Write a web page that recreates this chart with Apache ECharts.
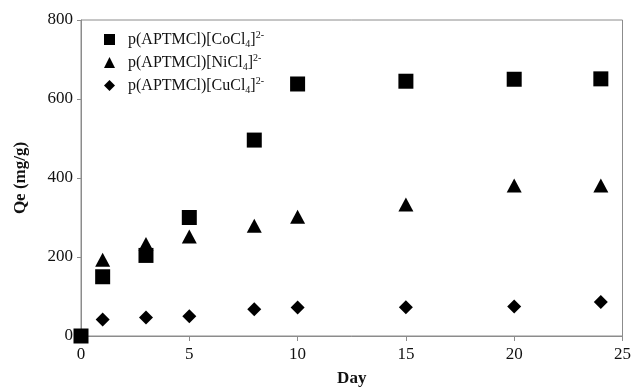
<!DOCTYPE html>
<html>
<head>
<meta charset="utf-8">
<script src="https://cdn.jsdelivr.net/npm/echarts@6/dist/echarts.min.js"></script>
<style>
  html, body { margin: 0; padding: 0; background: #fff; }
  #chart { width: 634px; height: 392px; }
</style>
</head>
<body>
<div id="chart"></div>
<script>
// Adsorption capacity Qe (mg/g) versus contact time (days)
const days = [0, 1, 3, 5, 8, 10, 15, 20, 24];
const cobalt = [0, 150, 204, 300, 496, 638, 645, 650, 651];
const nickel = [null, 193, 233, 252, 279, 302, 333, 381, 381];
const copper = [null, 42, 47, 50, 68, 72, 73, 75, 86];

const seriesNames = ['Co', 'Ni', 'Cu'];
const xTicks = [0, 5, 10, 15, 20, 25];
const yTicks = [0, 200, 400, 600, 800];

const FONT = '"Liberation Serif", "Times New Roman", serif';
const INK = '#111';
const GRID_GRAY = '#8c8c8c';

function pairs(values) {
  const out = [];
  days.forEach((d, i) => { if (values[i] !== null) out.push([d, values[i]]); });
  return out;
}

const chart = echarts.init(document.getElementById('chart'), null, { renderer: 'canvas' });

chart.setOption({
  animation: false,
  backgroundColor: '#fff',
  grid: {
    left: 81, right: 9, top: 20, bottom: 52,
    show: true, borderColor: GRID_GRAY, borderWidth: 1, backgroundColor: 'transparent'
  },
  legend: {
    orient: 'vertical',
    left: 99, top: 25,
    itemWidth: 11, itemHeight: 11,
    itemGap: 4,
    data: seriesNames,
    itemStyle: { opacity: 1 },
    formatter: function (name) {
      return '{first|p(APTMCl)[' + name + 'Cl}{sub|4}{t|]}{sup|2-}';
    },
    textStyle: {
      fontFamily: FONT,
      color: INK,
      rich: {
        first: { fontFamily: FONT, fontSize: 16, color: INK, lineHeight: 16, padding: [0, 0, 0, 8] },
        t: { fontFamily: FONT, fontSize: 16, color: INK, lineHeight: 16 },
        sub: { fontFamily: FONT, fontSize: 10, color: INK, padding: [9, 0, 0, 0], lineHeight: 10 },
        sup: { fontFamily: FONT, fontSize: 10, color: INK, padding: [0, 0, 9, 0], lineHeight: 10 }
      }
    }
  },
  xAxis: {
    type: 'value',
    min: 0, max: 25, interval: 5,
    name: 'Day',
    nameLocation: 'middle',
    nameGap: 34,
    nameTextStyle: { fontFamily: FONT, fontSize: 17, fontWeight: 'bold', color: INK },
    axisLine: { show: true, lineStyle: { color: GRID_GRAY, width: 1 } },
    axisTick: { show: true, length: 5, lineStyle: { color: GRID_GRAY } },
    splitLine: { show: false },
    axisLabel: {
      margin: 10,
      fontFamily: FONT, fontSize: 17, color: INK,
      formatter: v => xTicks.includes(v) ? String(v) : ''
    }
  },
  yAxis: {
    type: 'value',
    min: 0, max: 800, interval: 200,
    name: 'Qe (mg/g)',
    nameLocation: 'middle',
    nameGap: 52,
    nameTextStyle: { fontFamily: FONT, fontSize: 17, fontWeight: 'bold', color: INK },
    axisLine: { show: true, lineStyle: { color: GRID_GRAY, width: 1 } },
    axisTick: { show: true, length: 4, lineStyle: { color: GRID_GRAY } },
    splitLine: { show: false },
    axisLabel: {
      margin: 8,
      fontFamily: FONT, fontSize: 17, color: INK,
      formatter: v => yTicks.includes(v) ? String(v) : ''
    }
  },
  series: [
    {
      name: 'Co', type: 'scatter', clip: false,
      symbol: 'rect', symbolSize: 15,
      itemStyle: { color: '#000', opacity: 1 },
      data: pairs(cobalt), z: 4
    },
    {
      name: 'Ni', type: 'scatter', clip: false,
      symbol: 'triangle', symbolSize: [15, 14],
      itemStyle: { color: '#000', opacity: 1 },
      data: pairs(nickel), z: 3
    },
    {
      name: 'Cu', type: 'scatter', clip: false,
      symbol: 'diamond', symbolSize: 14,
      itemStyle: { color: '#000', opacity: 1 },
      data: pairs(copper), z: 3
    }
  ]
});
</script>
</body>
</html>
